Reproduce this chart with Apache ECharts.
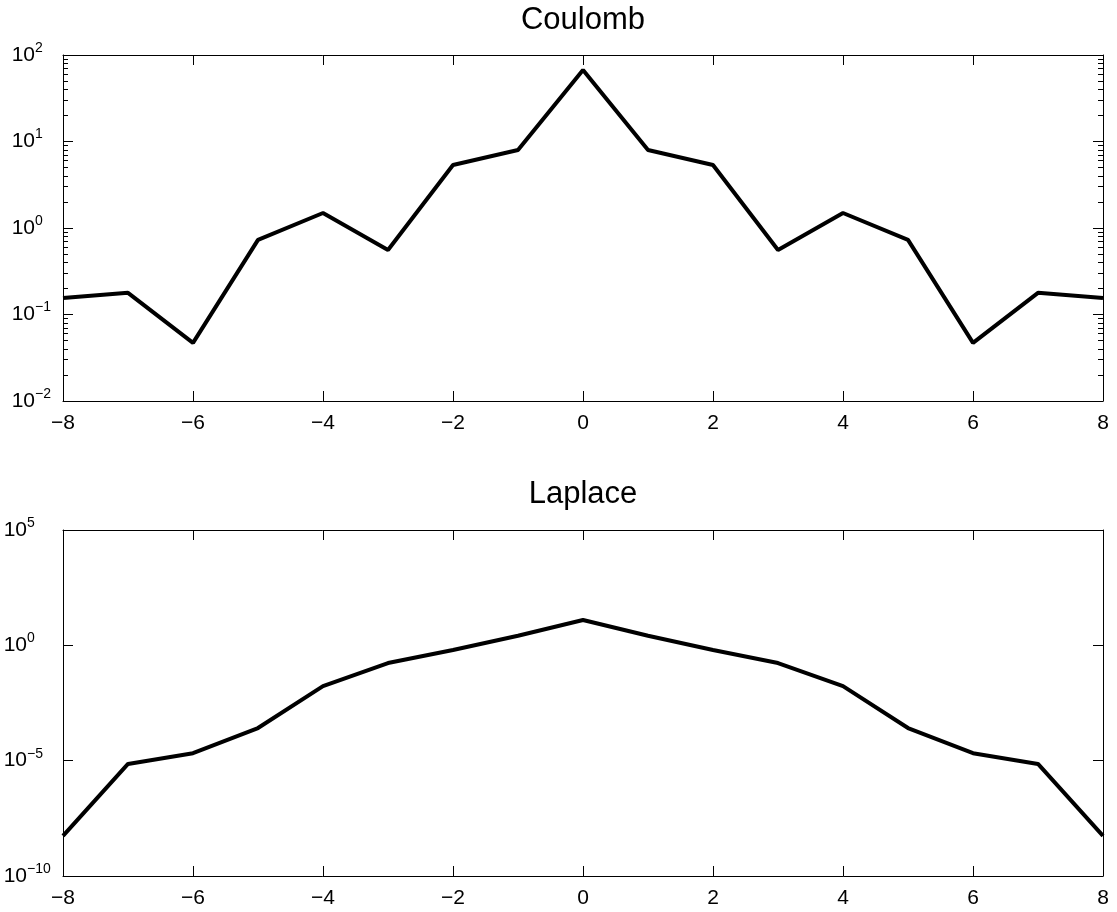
<!DOCTYPE html>
<html>
<head>
<meta charset="utf-8">
<script src="https://cdn.jsdelivr.net/npm/echarts@6/dist/echarts.min.js"></script>
<style>
html,body{margin:0;padding:0;background:#fff;}
#c{width:1117px;height:912px;}
</style>
</head>
<body>
<div id="c"></div>
<script>
// ---- data ----
const xValues = [-8,-7,-6,-5,-4,-3,-2,-1,0,1,2,3,4,5,6,7,8];
const coulomb = [0.155,0.178,0.047,0.73,1.49,0.557,5.35,7.98,67,7.98,5.35,0.557,1.49,0.73,0.047,0.178,0.155];
const laplace = [5.5e-9,7.2e-6,2.1e-5,2.6e-4,0.017,0.17,0.63,2.6,12.6,2.6,0.63,0.17,0.017,2.6e-4,2.1e-5,7.2e-6,5.5e-9];
const titles = ['Coulomb','Laplace'];
const xRange = [-8, 8];
const xStep = 2;
const coulombExpRange = [-2, 2];
const laplaceExpRange = [-10, 5];
const laplaceExpStep = 5;

// minor tick positions (log10 space) for the Coulomb axis
const coulombMinor = [];
for (let d = coulombExpRange[0]; d < coulombExpRange[1]; d++) {
  for (let k = 2; k <= 9; k++) coulombMinor.push(d + Math.log10(k));
}

const FONT = 'Liberation Sans, Arial, Helvetica, sans-serif';
const BLACK = '#000';

const chart = echarts.init(document.getElementById('c'), null, {renderer: 'canvas'});

function minus(s){ return String(s).replace('-', '\u2212'); }
function powLabel(v){
  const e = Math.round(Math.log10(v));
  return '{b|10}{s|' + minus(e) + '}';
}
function yLabel(supWidth){
  return {
    show: true, margin: 8, formatter: powLabel,
    rich: {
      b: {fontSize: 21, fontFamily: FONT, color: BLACK, lineHeight: 28, align: 'left', verticalAlign: 'middle'},
      s: {fontSize: 14, fontFamily: FONT, color: BLACK, lineHeight: 14, width: supWidth, align: 'left', verticalAlign: 'top'}
    }
  };
}
const lineStyle = {color: BLACK, width: 1};

const grids = [
  {left: 63, top: 55, width: 1040, height: 346},
  {left: 63, top: 530, width: 1040, height: 346}
];

const xAxes = [];
const yAxes = [];
[0,1].forEach(g => {
  xAxes.push({
    type: 'value', gridIndex: g, position: 'bottom', min: xRange[0], max: xRange[1], interval: xStep,
    axisLine: {show: true, onZero: false, lineStyle},
    axisTick: {show: true, inside: true, length: 10, lineStyle},
    axisLabel: {show: true, margin: 12, fontSize: 21, fontFamily: FONT, color: BLACK, formatter: v => minus(v)},
    splitLine: {show: false}
  });
  xAxes.push({
    type: 'value', gridIndex: g, position: 'top', min: xRange[0], max: xRange[1], interval: xStep,
    axisLine: {show: true, onZero: false, lineStyle},
    axisTick: {show: true, inside: true, length: 10, lineStyle},
    axisLabel: {show: false},
    splitLine: {show: false}
  });
});

// grid 0: Coulomb
const cMin = Math.pow(10, coulombExpRange[0]), cMax = Math.pow(10, coulombExpRange[1]);
yAxes.push({
  type: 'log', logBase: 10, gridIndex: 0, position: 'left', min: cMin, max: cMax, interval: 1,
  axisLine: {show: true, onZero: false, lineStyle},
  axisTick: {show: true, inside: true, length: 10, lineStyle},
  axisLabel: yLabel(20),
  splitLine: {show: false}, minorTick: {show: false}
});
yAxes.push({
  type: 'log', logBase: 10, gridIndex: 0, position: 'right', min: cMin, max: cMax, interval: 1,
  axisLine: {show: true, onZero: false, lineStyle},
  axisTick: {show: true, inside: true, length: 10, lineStyle},
  axisLabel: {show: false},
  splitLine: {show: false}
});
['left','right'].forEach(pos => {
  yAxes.push({
    type: 'value', gridIndex: 0, position: pos, min: coulombExpRange[0], max: coulombExpRange[1],
    axisLine: {show: false, onZero: false},
    axisTick: {show: true, inside: true, length: 5, lineStyle, customValues: coulombMinor},
    axisLabel: {show: false},
    splitLine: {show: false}
  });
});
// grid 1: Laplace
const lMin = Math.pow(10, laplaceExpRange[0]), lMax = Math.pow(10, laplaceExpRange[1]);
yAxes.push({
  type: 'log', logBase: 10, gridIndex: 1, position: 'left', min: lMin, max: lMax, interval: laplaceExpStep,
  axisLine: {show: true, onZero: false, lineStyle},
  axisTick: {show: true, inside: true, length: 10, lineStyle},
  axisLabel: yLabel(28),
  splitLine: {show: false}
});
yAxes.push({
  type: 'log', logBase: 10, gridIndex: 1, position: 'right', min: lMin, max: lMax, interval: laplaceExpStep,
  axisLine: {show: true, onZero: false, lineStyle},
  axisTick: {show: true, inside: true, length: 10, lineStyle},
  axisLabel: {show: false},
  splitLine: {show: false}
});

const option = {
  backgroundColor: '#fff',
  animation: false,
  grid: grids,
  xAxis: xAxes,
  yAxis: yAxes,
  graphic: [
    {type: 'text', x: 583, y: 5, style: {text: titles[0], fontSize: 31, fontFamily: FONT, fill: BLACK, textAlign: 'center', textVerticalAlign: 'top'}},
    {type: 'text', x: 583, y: 479, style: {text: titles[1], fontSize: 31, fontFamily: FONT, fill: BLACK, textAlign: 'center', textVerticalAlign: 'top'}}
  ],
  series: [
    {type: 'line', xAxisIndex: 0, yAxisIndex: 0, data: xValues.map((x,i) => [x, coulomb[i]]),
     showSymbol: false, symbol: 'none', lineStyle: {color: BLACK, width: 4}, clip: true},
    {type: 'line', xAxisIndex: 2, yAxisIndex: 4, data: xValues.map((x,i) => [x, laplace[i]]),
     showSymbol: false, symbol: 'none', lineStyle: {color: BLACK, width: 4}, clip: true}
  ]
};
chart.setOption(option);
</script>
</body>
</html>
